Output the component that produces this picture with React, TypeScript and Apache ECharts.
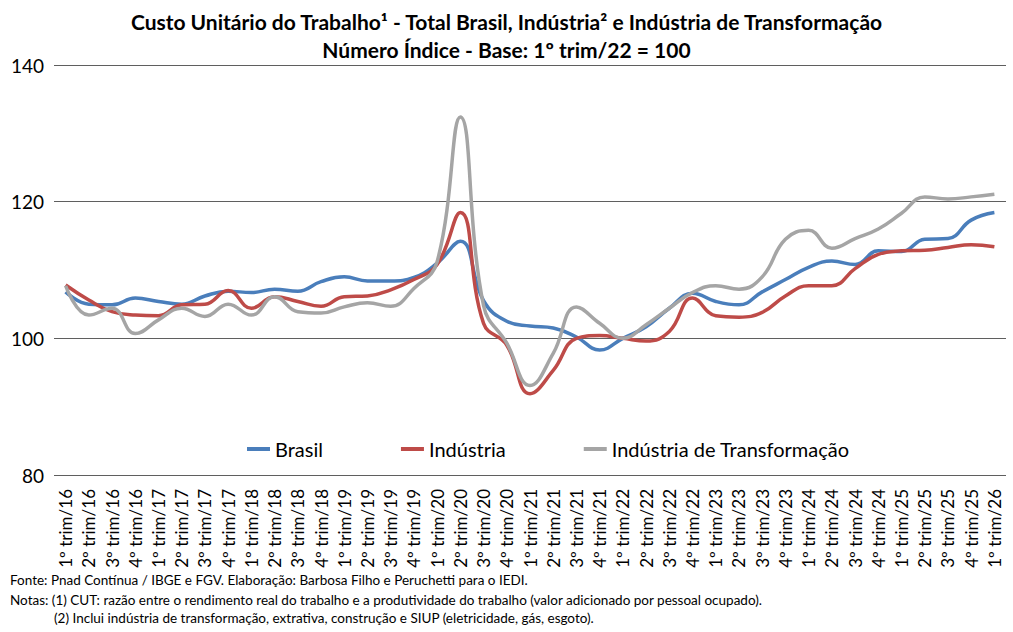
import { useEffect, useRef } from "react";
import * as echarts from "echarts";

const quarters = ["1º", "2º", "3º", "4º"];
const years = ["16", "17", "18", "19", "20", "21", "22", "23", "24", "25", "26"];
const categories: string[] = [];
years.forEach((y) => quarters.forEach((q) => categories.push(`${q} trim/${y}`)));
categories.splice(41);

const brasil = [
  106.8, 105.0, 104.9, 105.9, 105.4, 105.0, 106.2, 106.9, 106.7, 107.2, 106.9,
  108.3, 109.0, 108.4, 108.4, 108.9, 111.0, 114.2, 105.5, 102.5, 101.8, 101.5,
  100.2, 98.3, 100.0, 101.7, 104.4, 106.6, 105.4, 104.9, 106.8, 108.6, 110.4,
  111.3, 110.8, 112.8, 112.7, 114.5, 114.6, 117.3, 118.4,
];

const industria = [
  107.8, 105.6, 103.9, 103.4, 103.3, 104.9, 105.0, 107.0, 104.4, 106.1, 105.4,
  104.7, 106.1, 106.2, 107.1, 108.6, 110.8, 118.4, 102.2, 99.0, 91.9, 95.3,
  100.0, 100.4, 100.0, 99.6, 101.0, 105.9, 103.3, 103.1, 103.8, 106.2, 107.7,
  107.7, 110.2, 112.3, 112.8, 112.9, 113.3, 113.7, 113.4,
];

const transformacao = [
  107.7, 103.4, 104.4, 100.7, 102.7, 104.4, 103.2, 105.0, 103.4, 106.1, 103.9,
  103.7, 104.6, 105.2, 104.7, 107.3, 111.2, 132.4, 104.8, 99.3, 93.1, 97.8,
  104.6, 102.2, 100.0, 102.0, 104.4, 106.7, 107.7, 107.2, 109.0, 114.5, 115.8,
  113.2, 114.6, 116.0, 118.3, 120.7, 120.4, 120.7, 121.1,
];

const FONT = "Lato, 'Noto Sans', sans-serif";

const App = () => {
  const chartRef = useRef<HTMLDivElement>(null);

  useEffect(() => {
    if (!chartRef.current) return;
    document.body.style.margin = "0";
    const chart = echarts.init(chartRef.current, null, { renderer: "svg" });

    const line = (name: string, data: number[], color: string) => ({
      name,
      type: "line",
      data,
      smooth: 0.45,
      symbol: "none",
      lineStyle: { color, width: 3.5 },
      itemStyle: { color },
    });

    chart.setOption({
      animation: false,
      backgroundColor: "#fff",
      textStyle: { fontFamily: FONT },
      title: {
        text: "Custo Unitário do Trabalho¹ - Total Brasil, Indústria² e Indústria de Transformação\nNúmero Índice - Base: 1º trim/22 = 100",
        left: "center",
        top: 2,
        textStyle: {
          fontFamily: FONT,
          fontSize: 21,
          fontWeight: "bold",
          color: "#000",
          lineHeight: 28,
        },
      },
      legend: {
        top: 434,
        left: 242,
        itemGap: 78,
        itemWidth: 23,
        itemHeight: 4,
        icon: "rect",
        textStyle: { fontFamily: FONT, fontSize: 20, color: "#000" },
        data: ["Brasil", "Indústria", "Indústria de Transformação"],
      },
      grid: { left: 54, right: 7, top: 65, bottom: 157 },
      xAxis: {
        type: "category",
        data: categories,
        boundaryGap: true,
        axisLine: { show: false },
        axisTick: { show: false },
        axisLabel: {
          rotate: 90,
          interval: 0,
          fontFamily: FONT,
          fontSize: 17,
          color: "#000",
          margin: 14,
        },
      },
      yAxis: {
        type: "value",
        min: 80,
        max: 140,
        interval: 20,
        axisLine: { show: false },
        axisTick: { show: false },
        splitLine: { lineStyle: { color: "#5f5f5f", width: 1 } },
        axisLabel: { fontFamily: FONT, fontSize: 19, color: "#000", margin: 10 },
      },
      graphic: [
        {
          type: "text",
          left: 10,
          top: 573,
          style: {
            text: "Fonte: Pnad Contínua / IBGE e FGV. Elaboração: Barbosa Filho e Peruchetti para o IEDI.",
            fontFamily: FONT,
            fontSize: 13.5,
            fill: "#000",
          },
        },
        {
          type: "text",
          left: 10,
          top: 593,
          style: {
            text: "Notas: (1) CUT: razão entre o rendimento real do trabalho e a produtividade do trabalho (valor adicionado por pessoal ocupado).",
            fontFamily: FONT,
            fontSize: 13.5,
            fill: "#000",
          },
        },
        {
          type: "text",
          left: 54,
          top: 611,
          style: {
            text: "(2) Inclui indústria de transformação, extrativa, construção e SIUP (eletricidade, gás, esgoto).",
            fontFamily: FONT,
            fontSize: 13.5,
            fill: "#000",
          },
        },
      ],
      series: [
        line("Brasil", brasil, "#4a7ebb"),
        line("Indústria", industria, "#be4b48"),
        line("Indústria de Transformação", transformacao, "#a5a5a5"),
      ],
    });

    return () => {
      chart.dispose();
    };
  }, []);

  return <div ref={chartRef} style={{ width: 1013, height: 632 }} />;
};

export default App;
